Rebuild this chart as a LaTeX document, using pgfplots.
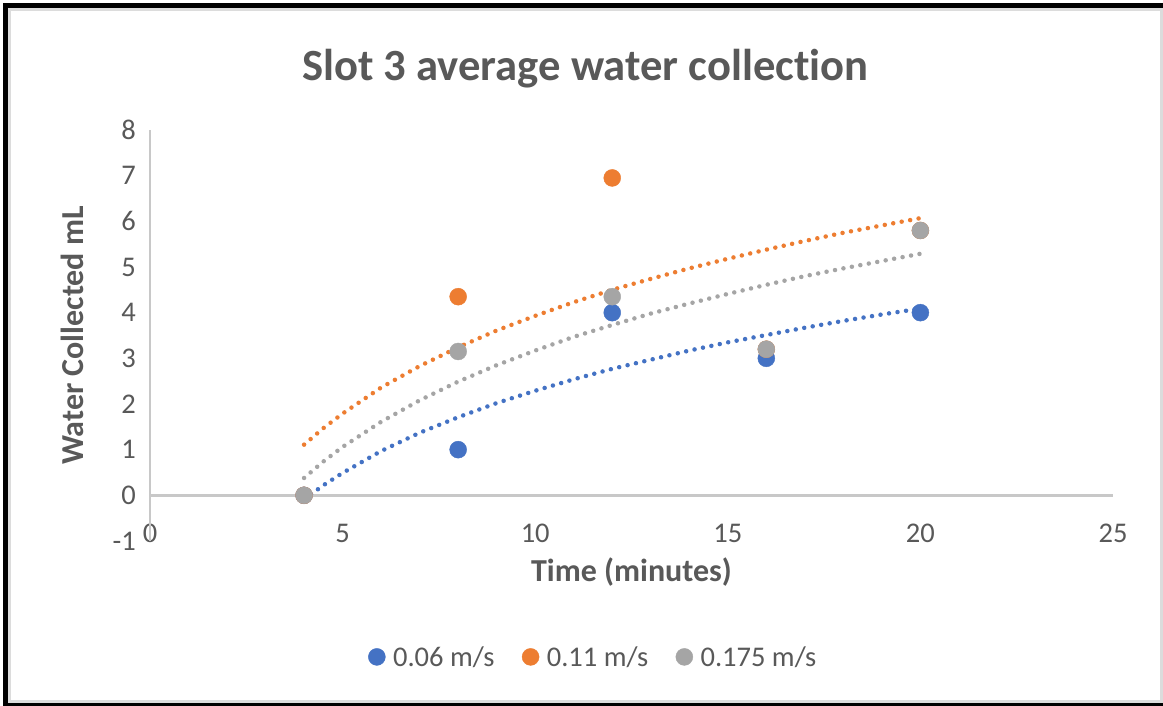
\documentclass[border=0pt]{standalone}
\usepackage{fontspec}
\setmainfont[Ligatures=NoCommon]{Carlito}
\usepackage{pgfplots}
\pgfplotsset{compat=1.18}
\definecolor{sblue}{HTML}{4472C4}
\definecolor{sorange}{HTML}{ED7D31}
\definecolor{sgray}{HTML}{A5A5A5}
\definecolor{txt}{HTML}{595959}
\definecolor{axl}{HTML}{C8C8C8}
\definecolor{frameg}{HTML}{DCDCDC}
\begin{document}
\begin{tikzpicture}[x=1pt,y=1pt]
% background and frame (pixel coordinates, y flipped)
\fill[white] (0,0) rectangle (1163,706);
\fill[frameg] (8,3) rectangle (1163,6);
\fill[frameg] (8,695) rectangle (11,3);
\fill[frameg] (8,695) rectangle (1163,698);
\fill[frameg] (1160,3) rectangle (1163,698);
\fill[black] (3,0) rectangle (8,703);
\fill[black] (3,698) rectangle (1163,703);
\fill[black] (3,0) rectangle (1163,3);
\begin{axis}[
  at={(150pt,165pt)}, anchor=south west,
  scale only axis, width=963pt, height=411pt,
  xmin=0, xmax=25, ymin=-1, ymax=8,
  axis line style={draw=none},
  xtick pos=lower, ytick pos=left,
  clip=false,
  xtick={0,5,10,15,20,25},
  xticklabels={0,5,10,15,20,25},
  ytick={-1,0,1,2,3,4,5,6,7,8},
  yticklabels={-1,0,1,2,3,4,5,6,7,8},
  major tick length=0pt,
  tick style={draw=none},
  tick label style={font=\fontsize{28.5}{34}\selectfont, text=txt, inner sep=0pt},
  xticklabel style={anchor=center, yshift=8pt},
  yticklabel style={anchor=east, xshift=-14pt},
  title={\textbf{Slot 3 average water collection}},
  title style={at={(axis description cs:0.452,1.107)}, anchor=base, font=\fontsize{44.6}{52}\selectfont, text=txt, inner sep=0pt},
  xlabel={\textbf{Time (minutes)}},
  xlabel style={at={(axis description cs:0.5,-0.0754)}, anchor=center, font=\fontsize{32}{38}\selectfont, text=txt, inner sep=0pt},
  ylabel={\textbf{Water Collected mL}},
  ylabel style={at={(axis description cs:-0.081,0.5)}, anchor=center, font=\fontsize{32}{38}\selectfont, text=txt, inner sep=0pt},
  legend columns=3,
  legend style={at={(axis description cs:0.459,-0.282)}, anchor=center, draw=none, fill=none,
    font=\fontsize{28.5}{34}\selectfont, text=txt,
    /tikz/every even column/.append style={column sep=27pt},
    nodes={inner sep=0pt, text=txt}},
  legend image code/.code={\draw[#1, mark size=8.5pt] plot coordinates {(0pt,0pt)}; \path (-9pt,0pt) (16pt,0pt);},
  trend/.style={line width=4.5pt, dash pattern=on 0pt off 8.6pt, line cap=round, forget plot},
]
\draw[axl, line width=2.5pt] (axis cs:0,-1) -- (axis cs:0,8);
\draw[axl, line width=2.5pt] (axis cs:0,0) -- (axis cs:25,0);

\addplot[only marks, mark=*, mark size=8.5pt, color=sblue, mark options={draw=sblue, fill=sblue}]
  coordinates {(4,0) (8,1) (12,4) (16,3) (20,4)};
\addlegendentry{0.06 m/s}
\addplot[only marks, mark=*, mark size=8.5pt, color=sorange, mark options={draw=sorange, fill=sorange}]
  coordinates {(4,0) (8,4.35) (12,6.95) (16,3.2) (20,5.8)};
\addlegendentry{0.11 m/s}
\addplot[only marks, mark=*, mark size=8.5pt, color=sgray, mark options={draw=sgray, fill=sgray}]
  coordinates {(4,0) (8,3.15) (12,4.35) (16,3.2) (20,5.8)};
\addlegendentry{0.175 m/s}

% logarithmic trendlines, values
\addplot[trend, color=sblue] coordinates {
 (4,-0.09) (4.5,0.22) (5,0.49) (6,0.97) (7,1.37) (8,1.71) (9,2.02) (10,2.29) (11,2.54)
 (12,2.77) (13,2.97) (14,3.17) (15,3.35) (16,3.51) (17,3.67) (18,3.82) (19,3.96) (20,4.09)};
\addplot[trend, color=sorange] coordinates {
 (4,1.11) (4.5,1.47) (5,1.79) (6,2.36) (7,2.83) (8,3.24) (9,3.61) (10,3.93) (11,4.23)
 (12,4.50) (13,4.74) (14,4.97) (15,5.18) (16,5.38) (17,5.57) (18,5.75) (19,5.91) (20,6.07)};
\addplot[trend, color=sgray] coordinates {
 (4,0.38) (4.5,0.74) (5,1.06) (6,1.61) (7,2.08) (8,2.49) (9,2.85) (10,3.17) (11,3.47)
 (12,3.73) (13,3.98) (14,4.20) (15,4.41) (16,4.61) (17,4.80) (18,4.97) (19,5.13) (20,5.29)};
\end{axis}
\end{tikzpicture}
\end{document}
